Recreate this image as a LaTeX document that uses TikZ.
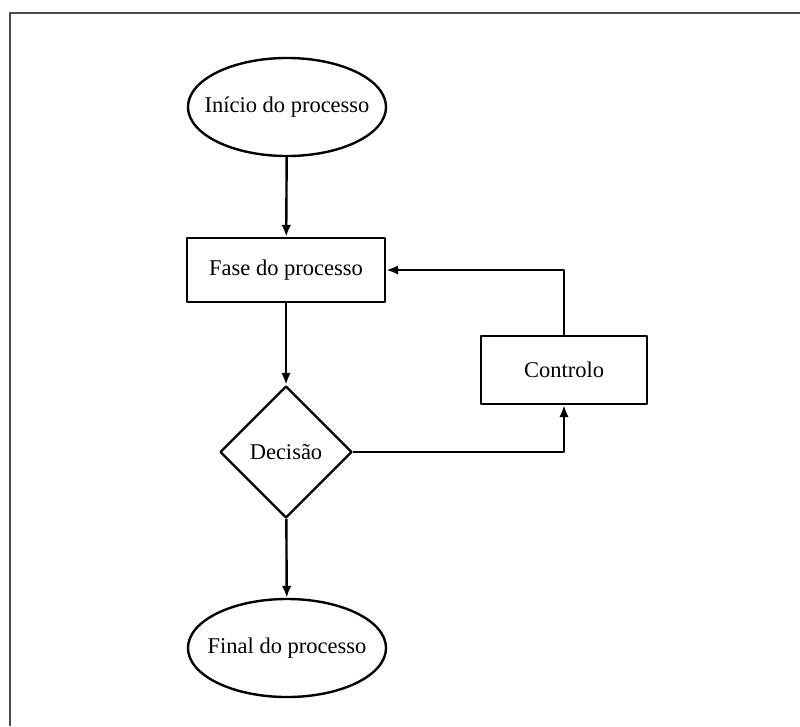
\documentclass[tikz,border=0pt]{standalone}
\usepackage{fontspec}
\setmainfont{Liberation Serif}
\usetikzlibrary{shapes.geometric,arrows.meta}
\begin{document}
\begin{tikzpicture}[x=0.025cm, y=-0.025cm, font=\fontsize{16}{19}\selectfont, line width=1.7pt, line join=round,
    terminal/.style={draw, ellipse, inner xsep=-0.5cm, inner ysep=0pt, minimum width=4.95cm, minimum height=2.45cm},
    processo/.style={draw, rectangle, inner sep=0pt},
    decisao/.style={draw, diamond, aspect=1, inner sep=0pt, minimum width=3.3cm, minimum height=3.3cm},
    seta/.style={-{Latex[length=0.3cm,width=0.24cm]}},
    moldura/.style={draw=black!70, line width=1.5pt}]
    \useasboundingbox (0,0) rectangle (800,726);
    \draw[moldura] (10,726) -- (10,13) -- (800,13);
    \node[terminal] (inicio) at (287,107) {Início do processo};
    \node[processo, minimum width=4.95cm, minimum height=1.6cm] (fase) at (286,270) {Fase do processo};
    \node[decisao] (decisao) at (286,452) {Decisão};
    \node[terminal] (final) at (287,648) {Final do processo};
    \node[processo, minimum width=4.15cm, minimum height=1.7cm] (controlo) at (564,370) {Controlo};
    \draw[seta] (inicio) -- (fase);
    \draw[seta] (fase) -- (decisao);
    \draw[seta] (decisao) -- (final);
    \draw[seta] (decisao.east) -| (controlo.south);
    \draw[seta] (controlo.north) |- (fase.east);
\end{tikzpicture}
\end{document}
